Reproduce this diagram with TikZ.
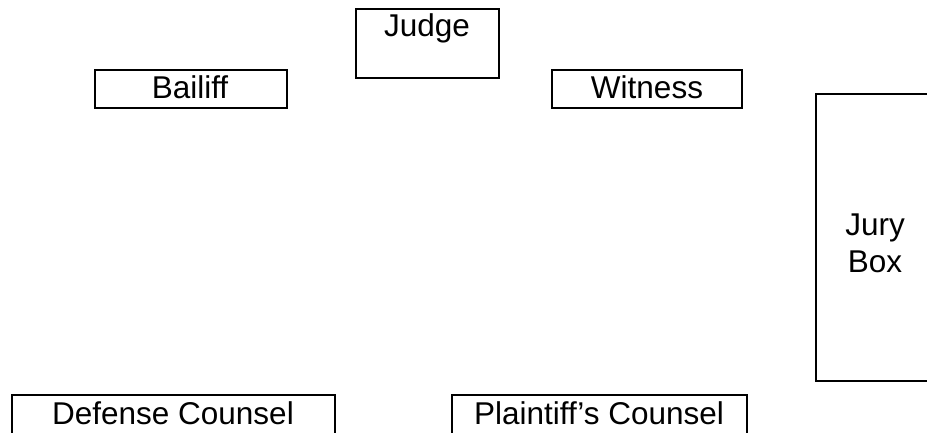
\documentclass[tikz,border=0pt]{standalone}
\usepackage{fontspec}
\setmainfont{Liberation Sans}
\begin{document}
\begin{tikzpicture}[x=1pt,y=-1pt,
  boxline/.style={draw=black,line width=2.3pt},
  lbl/.style={font=\fontsize{31.5}{36}\selectfont,inner sep=0pt,anchor=base}]
\useasboundingbox (0,0) rectangle (927,433);
\clip (0,0) rectangle (927,433);
% boxes
\draw[boxline] (356,9) rectangle (499,78);
\draw[boxline] (95,70) rectangle (287,108);
\draw[boxline] (552,70) rectangle (742,108);
\draw[boxline] (950,94) -- (816,94) -- (816,381) -- (950,381);
\draw[boxline] (12,450) -- (12,395) -- (335,395) -- (335,450);
\draw[boxline] (452,450) -- (452,395) -- (747,395) -- (747,450);
% labels
\node[lbl] (judge) at (427,37) {Judge};
\node[lbl] (bailiff) at (190,99) {Bailiff};
\node[lbl] (witness) at (647,99) {Witness};
\node[lbl] (jury1) at (875,236) {Jury};
\node[lbl] (jury2) at (875,272) {Box};
\node[lbl] (defense) at (173,424) {Defense Counsel};
\node[lbl] (plaintiff) at (599,424) {Plaintiff’s Counsel};
\end{tikzpicture}
\end{document}
